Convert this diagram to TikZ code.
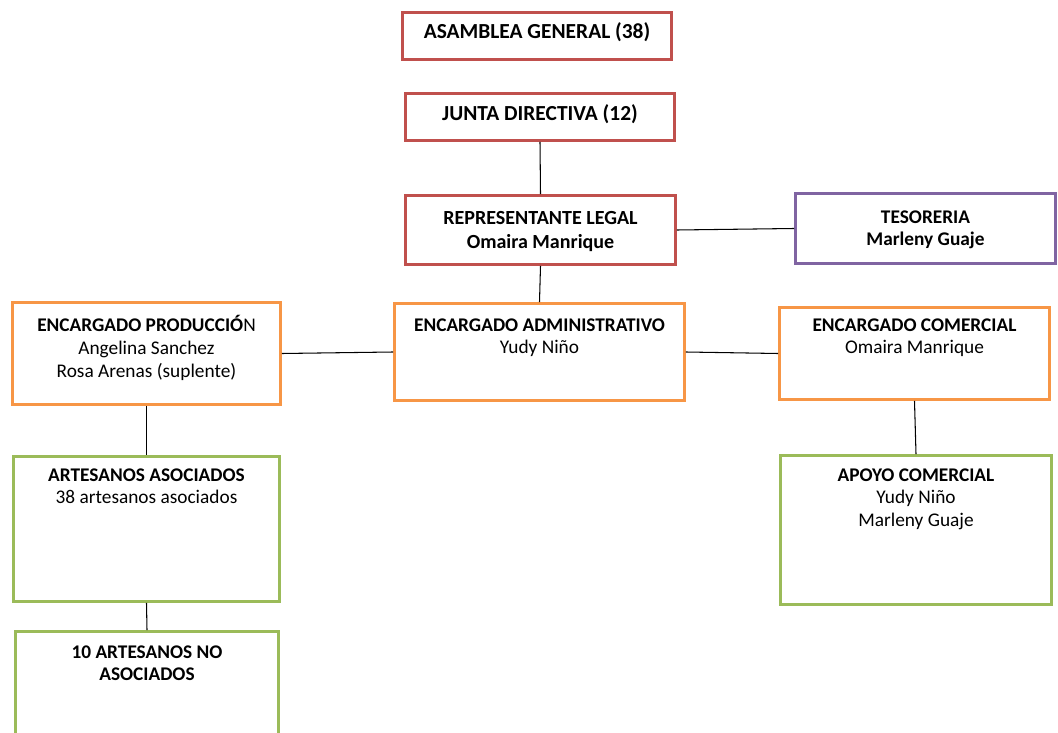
\documentclass[tikz,border=0pt]{standalone}
\usepackage{fontspec}
\setmainfont{Carlito}
\usepackage{tikz}
\definecolor{orgred}{HTML}{C0504D}
\definecolor{orgorange}{HTML}{F79646}
\definecolor{orgpurple}{HTML}{8064A2}
\definecolor{orggreen}{HTML}{9BBB59}
\usetikzlibrary{positioning, calc}

\begin{document}
\begin{tikzpicture}[x=0.02cm, y=-0.02cm,
  box/.style={draw, line width=1.7pt, fill=white, inner sep=0pt},
  lbl/.style={anchor=north, align=center, inner sep=0pt, font=\fontsize{11}{13}\selectfont},
  biglbl/.style={lbl, font=\fontsize{12.2}{14}\selectfont},
  link/.style={draw=black, line width=0.6pt}]
\useasboundingbox (0,0) rectangle (1058,733);
\node[box, draw=orgred, minimum width=5.38cm, minimum height=0.94cm] (asamblea) at (537,36) {};
\node[box, draw=orgred, minimum width=5.38cm, minimum height=0.94cm] (junta) at (540,117) {};
\node[box, draw=orgred, minimum width=5.40cm, minimum height=1.38cm] (rep) at (540.5,230) {};
\node[box, draw=orgpurple, minimum width=5.20cm, minimum height=1.40cm] (tes) at (925.5,228.5) {};
\node[box, draw=orgorange, minimum width=5.80cm, minimum height=1.94cm] (admin) at (539.5,352) {};
\node[box, draw=orgorange, minimum width=5.36cm, minimum height=2.04cm] (prod) at (146.5,353.5) {};
\node[box, draw=orgorange, minimum width=5.40cm, minimum height=1.84cm] (com) at (914.5,353.5) {};
\node[box, draw=orggreen, minimum width=5.32cm, minimum height=2.90cm] (artes) at (146.5,529) {};
\node[box, draw=orggreen, minimum width=5.26cm, minimum height=2.10cm] (noasoc) at (147,684) {};
\node[box, draw=orggreen, minimum width=5.42cm, minimum height=2.98cm] (apoyo) at (916,530) {};

\node[biglbl] (asambleatxt) at ([yshift=-0.22cm]asamblea.north) {\textbf{ASAMBLEA GENERAL (38)}};
\node[biglbl] (juntatxt) at ([yshift=-0.24cm]junta.north) {\textbf{JUNTA DIRECTIVA (12)}};
\node[lbl, font=\fontsize{11.4}{13.2}\selectfont] (reptxt) at ([yshift=-0.35cm]rep.north) {\textbf{REPRESENTANTE LEGAL}\\\textbf{Omaira Manrique}};
\node[lbl] (testxt) at ([yshift=-0.36cm]tes.north) {\textbf{TESORERIA}\\\textbf{Marleny Guaje}};
\node[lbl] (admintxt) at ([yshift=-0.32cm]admin.north) {\textbf{ENCARGADO ADMINISTRATIVO}\\Yudy Niño};
\node[lbl] (prodtxt) at ([yshift=-0.28cm]prod.north) {\textbf{ENCARGADO PRODUCCIÓ}N\\Angelina Sanchez\\Rosa Arenas (suplente)};
\node[lbl] (comtxt) at ([yshift=-0.24cm]com.north) {\textbf{ENCARGADO COMERCIAL}\\Omaira Manrique};
\node[lbl] (artestxt) at ([yshift=-0.26cm]artes.north) {\textbf{ARTESANOS ASOCIADOS}\\38 artesanos asociados};
\node[lbl] (noasoctxt) at ([yshift=-0.30cm]noasoc.north) {\textbf{10 ARTESANOS NO}\\\textbf{ASOCIADOS}};
\node[lbl] (apoyotxt) at ([yshift=-0.28cm]apoyo.north) {\textbf{APOYO COMERCIAL}\\Yudy Niño\\Marleny Guaje};

\draw[link] (junta.south) -- (rep.north);
\draw[link] (rep.south) -- (admin.north);
\draw[link] (rep.east) -- (tes.west);
\draw[link] (admin.west) -- (prod.east);
\draw[link] (admin.east) -- (com.west);
\draw[link] (prod.south) -- (artes.north);
\draw[link] (artes.south) -- (noasoc.north);
\draw[link] (com.south) -- (apoyo.north);
\end{tikzpicture}
\end{document}
